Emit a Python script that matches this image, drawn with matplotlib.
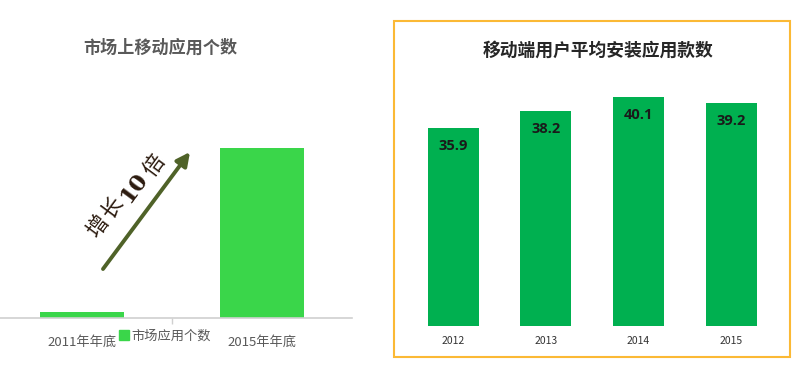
import matplotlib
matplotlib.use("Agg")
import matplotlib.pyplot as plt
from matplotlib.patches import Rectangle, FancyArrowPatch

plt.rcParams['font.family'] = ['Noto Sans CJK SC', 'DejaVu Sans']

# ---- data ----
left_title = "市场上移动应用个数"
left_categories = ["2011年年底", "2015年年底"]
left_values = [3, 100]
left_legend = "市场应用个数"
growth_parts = ["增", "长", "10", "倍"]

right_title = "移动端用户平均安装应用款数"
right_categories = ["2012", "2013", "2014", "2015"]
right_values = [35.9, 38.2, 40.1, 39.2]

W, H = 799, 366
fig = plt.figure(figsize=(W / 100, H / 100), dpi=100)

def ax_rect(x0, y0, x1, y1):
    return [x0 / W, 1 - y1 / H, (x1 - x0) / W, (y1 - y0) / H]

# ---- left chart ----
axL = fig.add_axes(ax_rect(0, 80, 352, 317.5))
spacing = 179.5
xl0 = -82 / spacing
xl1 = (352 - 82) / spacing
axL.bar(range(len(left_values)), left_values, width=84 / spacing, color="#3ad64a")
axL.set_xlim(xl0, xl1)
axL.set_ylim(0, 100 * 237.5 / 170)
for s in ["top", "right", "left"]:
    axL.spines[s].set_visible(False)
axL.spines["bottom"].set_color("#d0d0d0")
axL.spines["bottom"].set_linewidth(1.2)
axL.set_yticks([])
axL.set_xticks([0.5])
axL.set_xticklabels([""])
axL.tick_params(axis="x", length=4, color="#d0d0d0", width=1)
for i, c in enumerate(left_categories):
    axL.text(i, -0.105, c, transform=axL.get_xaxis_transform(), ha="center", va="center",
             fontsize=9.5, color="#595959")
fig.text(160 / W, 1 - 48 / H, left_title, ha="center", va="center", fontsize=12.3,
         fontweight="bold", color="#595959")
# legend
handle = Rectangle((0, 0), 1, 1, color="#3ad64a")
leg = fig.legend([handle], [left_legend], loc="center", bbox_to_anchor=(165 / W, 1 - 336 / H),
                 frameon=False, fontsize=9.5, handlelength=0.7, handleheight=0.7,
                 handletextpad=0.2, borderpad=0)
for t in leg.get_texts():
    t.set_color("#595959")
# arrow
fig.add_artist(FancyArrowPatch(
    (103 / W, 1 - 269 / H), (190 / W, 1 - 152 / H), transform=fig.transFigure,
    arrowstyle="-|>,head_length=8,head_width=4", color="#4f6228", lw=2.8,
    shrinkA=0, shrinkB=0, mutation_scale=1))
# rotated growth text
ang = 53.5
pos = [(98, 227), (113, 208), (134, 188), (154, 166)]
for part, (px, py) in zip(growth_parts, pos):
    if part == "10":
        fig.text(px / W, 1 - py / H, part, rotation=ang, ha="center", va="center",
                 fontsize=16.5, color="#2b1a0e", fontweight="bold", family="DejaVu Serif",
                 rotation_mode="anchor")
    else:
        fig.text(px / W, 1 - py / H, part, rotation=ang, ha="center", va="center",
                 fontsize=15.5, color="#2b1a0e", rotation_mode="anchor")

# ---- right chart ----
fig.add_artist(Rectangle((394 / W, 1 - 357 / H), (790 - 394) / W, (357 - 20.5) / H,
                         transform=fig.transFigure, fill=False, edgecolor="#fbb935", lw=1.5))
spR = 92.6
axR = fig.add_axes(ax_rect(453.3 - 0.6 * spR, 80, 731 + 0.6 * spR, 326))
axR.bar(range(len(right_values)), right_values, width=51 / spR, color="#00b050")
base = 9.6
axR.set_ylim(base, base + 246 / 7.52)
axR.set_xlim(-0.6, 3.6)
axR.axis("off")
for i, v in enumerate(right_values):
    axR.annotate(f"{v}", (i, v), xytext=(0, -18), textcoords="offset pixels",
                 ha="center", va="center", fontsize=10.5, fontweight="bold", color="#1a1a1a",
                 family=["Open Sans", "DejaVu Sans"])
    axR.text(i, -0.06, right_categories[i], transform=axR.get_xaxis_transform(),
             ha="center", va="center", fontsize=7.5, color="#333333")
fig.text(598 / W, 1 - 51 / H, right_title, ha="center", va="center", fontsize=12.8,
         fontweight="bold", color="#262626")

fig.savefig("out.png", dpi=100)
